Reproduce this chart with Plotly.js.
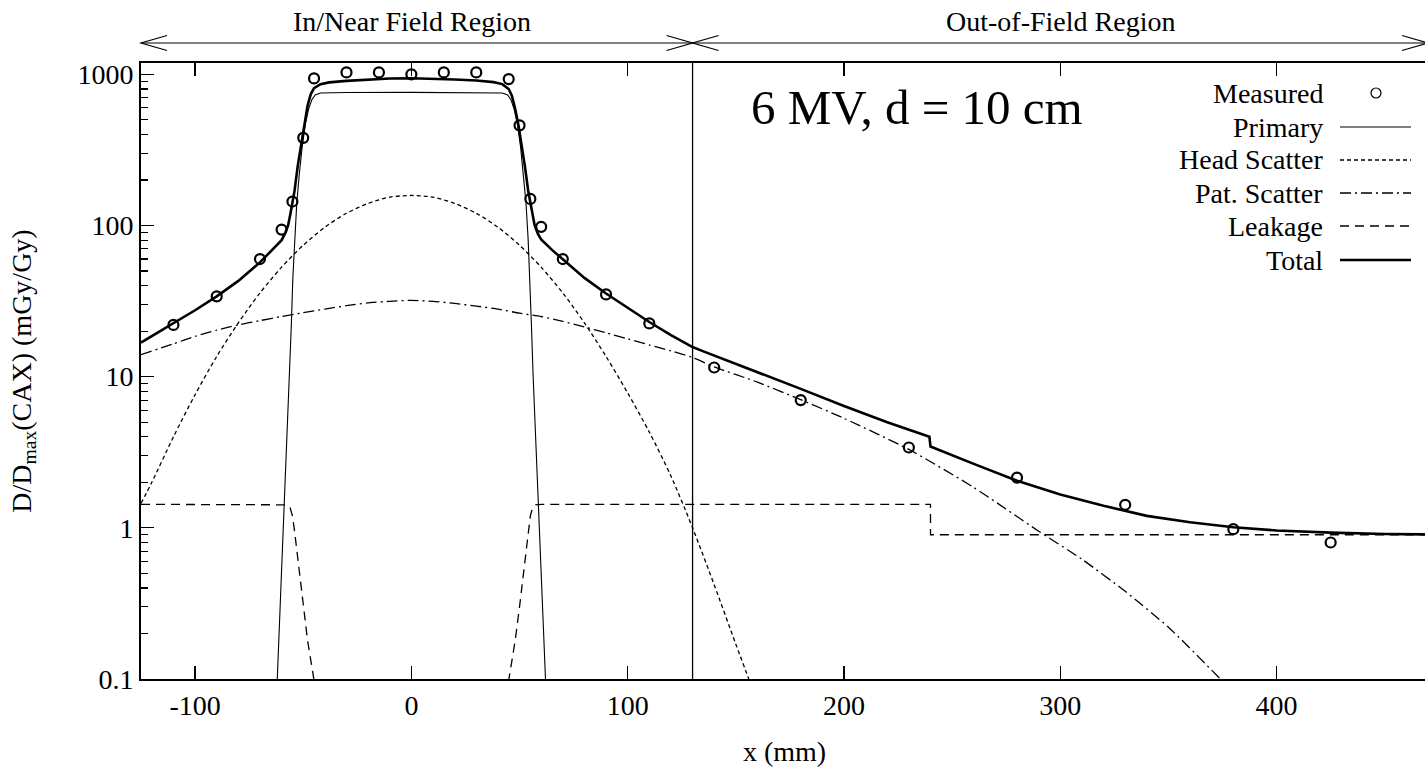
<!DOCTYPE html>
<html><head><meta charset="utf-8">
<script src="https://cdn.plot.ly/plotly-3.0.1.min.js"></script>
<style>html,body{margin:0;padding:0;overflow:hidden;background:#fff}</style>
</head><body><div id="chart" style="width:1428px;height:772px"></div>
<script>
// ---- data ----
const measX = [-110,-90,-70,-60,-55,-50,-45,-30,-15,0,15,30,45,50,55,60,70,90,110,140,180,230,280,330,380,425];
const measY = [22,34,60,94,144,380,940,1030,1030,1000,1030,1030,930,460,150,98,60,35,22.5,11.5,7.0,3.4,2.15,1.42,0.98,0.8];

const primX = [-62,-61,-60,-59,-58,-57,-56.3,-55.5,-54.8,-54,-53,-51.8,-50.5,-49,-47.5,-46,-44.5,-42,-30,0,30,42,44.5,46,47.5,49,50.5,51.8,53,54,54.8,55.5,56.3,57,58,59,60,61,62];
const primY = [0.1,0.22,0.5,1.1,2.5,5.7,10,22,45,80,140,220,330,470,590,680,730,752,758,760,758,752,730,680,590,470,330,220,140,80,45,22,10,5.7,2.5,1.1,0.5,0.22,0.1];

const headX = [-125,-120,-110,-100,-90,-80,-70,-60,-50,-40,-30,-20,-10,0,10,20,30,40,50,60,70,80,90,100,110,120,130,140,150,156];
const headY = [1.45,2.0,4.0,7.6,13.6,22.7,35.8,53,74,97.5,120.5,140,154,158,154,140,120.5,97.5,74,53,35.8,22.7,13.6,7.8,4.3,2.2,1.0,0.42,0.17,0.1];

const patX = [-125,-110,-100,-90,-80,-70,-60,-50,-40,-30,-20,-10,0,10,20,30,40,50,60,70,80,90,100,110,120,130,140,160,180,200,230,260,290,310,330,350,374];
const patY = [14,16.5,18.5,20.3,22,23.5,25,26.5,28,29.5,30.8,31.5,32,31.5,30.5,29.3,28,26.3,25,23.2,21.3,19.5,17.8,16.2,14.8,13.4,11.6,9.2,7.05,5.3,3.3,1.85,0.95,0.62,0.38,0.22,0.1];

const leakX = [-125,-60,-57.5,-56,-55,-54,-53,-52,-50,-48,-46,-44, 44,46,48,50,52,53,54,55,56,57.5,60,240,240,470];
const leakY = [1.43,1.43,1.42,1.35,1.2,0.95,0.72,0.52,0.3,0.18,0.12,0.08, 0.08,0.12,0.18,0.3,0.52,0.72,0.95,1.2,1.35,1.42,1.43,1.43,0.9,0.9];

const totX = [-125,-110,-100,-90,-80,-70,-65,-60,-58.5,-57,-56,-55,-54,-52.5,-51,-49.5,-48,-46.5,-45,-42,-38,-30,-20,-10,0,10,20,30,38,42,45,46.5,48,49.5,51,52.5,54,55,56,57,58.5,60,65,70,80,90,100,110,120,125,130,135,140,150,160,180,200,220,239.5,240,260,280,300,320,340,360,380,400,425,450,470];
const totY = [16.8,22.5,27.5,34,43,57,67,80,88,100,118,145,170,250,340,470,620,740,810,860,885,905,925,938,942,938,925,910,888,862,800,720,590,460,340,245,170,140,115,100,88,81,69,60,45,35.5,28.5,23,18.8,17.1,15.7,14.7,13.8,12.2,10.8,8.3,6.4,5.0,4.0,3.45,2.65,2.05,1.66,1.4,1.2,1.09,1.01,0.96,0.93,0.91,0.905];

const legendNames = ['Measured','Primary','Head Scatter','Pat. Scatter','Leakage','Total'];
const regionLabels = ['In/Near Field Region','Out-of-Field Region'];
const regionBounds = [-125, 130, 470];
const xTickVals = [-100,0,100,200,300,400];
const xTickText = ['-100','0','100','200','300','400'];
const yTickVals = [0.1,1,10,100,1000];
const yTickText = ['0.1','1','10','100','1000'];
const annoText = '6 MV, d = 10 cm';

// ---- styles ----
const FONT = 'Liberation Serif';
const xr = [-125, 470];
const dashes = {
  primary: 'solid',
  head: '4px,3px',
  pat: '11px,4px,2px,4px',
  leak: '9px,6px'
};

const traces = [
  {x: primX, y: primY, mode:'lines', line:{color:'#000', width:1.1, dash:dashes.primary}, name:legendNames[1]},
  {x: headX, y: headY, mode:'lines', line:{color:'#000', width:1.3, dash:dashes.head, shape:'spline', smoothing:0.8}, name:legendNames[2]},
  {x: patX, y: patY, mode:'lines', line:{color:'#000', width:1.3, dash:dashes.pat, shape:'spline', smoothing:0.6}, name:legendNames[3]},
  {x: leakX, y: leakY, mode:'lines', line:{color:'#000', width:1.3, dash:dashes.leak}, name:legendNames[4]},
  {x: totX, y: totY, mode:'lines', line:{color:'#000', width:2.6}, name:legendNames[5]},
  {x: measX, y: measY, mode:'markers', marker:{symbol:'circle-open', size:10, color:'#000', line:{width:2.2, color:'#000'}}, name:legendNames[0]}
];

function px(v){ return (v - xr[0])/(xr[1]-xr[0]); }
const arrowY = 1.0325, wingX = 26/1287, wingY = 7.5/616;

const shapes = [];
shapes.push({type:'line', xref:'x', yref:'paper', x0:regionBounds[1], x1:regionBounds[1], y0:0, y1:1, line:{color:'#000', width:1.3}});
shapes.push({type:'line', xref:'paper', yref:'paper', x0:px(regionBounds[0]), x1:px(regionBounds[2]), y0:arrowY, y1:arrowY, line:{color:'#000', width:1.2}});
function chevron(xp, dir){
  const xb = xp - dir*wingX;
  return {type:'path', xref:'paper', yref:'paper',
    path:`M ${xb} ${arrowY+wingY} L ${xp} ${arrowY} L ${xb} ${arrowY-wingY}`,
    line:{color:'#000', width:1.2}};
}
shapes.push(chevron(px(regionBounds[0]), -1));
shapes.push(chevron(px(regionBounds[1]), 1));
shapes.push(chevron(px(regionBounds[1]), -1));
shapes.push(chevron(px(regionBounds[2]), 1));

const legTextX = (1325-141)/1287, legS0 = (1340-141)/1287, legS1 = (1411-141)/1287;
const legY = [93,127,160,193,226,260].map(p => (679-p)/616);
const annotations = [];
legendNames.forEach((n,i)=>{
  annotations.push({xref:'paper', yref:'paper', x:legTextX, y:legY[i], text:n, showarrow:false,
    xanchor:'right', yanchor:'middle', font:{family:FONT, size:28, color:'#000'}});
});
const legStyles = [null, {w:1.1,d:dashes.primary},{w:1.3,d:dashes.head},{w:1.3,d:dashes.pat},{w:1.3,d:dashes.leak},{w:2.6,d:'solid'}];
for (let i=1;i<6;i++){
  shapes.push({type:'line', xref:'paper', yref:'paper', x0:legS0, x1:legS1, y0:legY[i], y1:legY[i], line:{color:'#000', width:legStyles[i].w, dash:legStyles[i].d}});
}
const cx = (1376-141)/1287, rx = 5/1287, ry = 5/616;
shapes.push({type:'circle', xref:'paper', yref:'paper', x0:cx-rx, x1:cx+rx, y0:legY[0]-ry, y1:legY[0]+ry, line:{color:'#000', width:1.2}});

annotations.push({xref:'x', yref:'paper', x:(regionBounds[0]+regionBounds[1])/2 - 2, y:1.0666, text:regionLabels[0], showarrow:false, xanchor:'center', yanchor:'middle', font:{family:FONT, size:28, color:'#000'}});
annotations.push({xref:'x', yref:'paper', x:(regionBounds[1]+regionBounds[2])/2, y:1.0666, text:regionLabels[1], showarrow:false, xanchor:'center', yanchor:'middle', font:{family:FONT, size:28, color:'#000'}});
annotations.push({xref:'paper', yref:'paper', x:(917-141)/1287, y:(679-108)/616, text:annoText, showarrow:false, xanchor:'center', yanchor:'middle', font:{family:FONT, size:49, color:'#000'}});

const layout = {
  width:1428, height:772,
  margin:{l:141, r:0, t:63, b:93},
  paper_bgcolor:'#fff', plot_bgcolor:'#fff',
  showlegend:false,
  font:{family:FONT, size:28, color:'#000'},
  xaxis:{
    range:xr, tickmode:'array', tickvals:xTickVals, ticktext:xTickText,
    ticks:'inside', ticklen:13, tickwidth:1.3, tickcolor:'#000',
    showline:true, linewidth:2, linecolor:'#000', mirror:'ticks',
    showgrid:false, zeroline:false,
    tickfont:{family:FONT, size:28, color:'#000'},
    title:{text:'x (mm)', font:{family:FONT, size:28, color:'#000'}, standoff:22}
  },
  yaxis:{
    type:'log', range:[-1, 3.075],
    tickmode:'array', tickvals:yTickVals, ticktext:yTickText,
    ticks:'inside', ticklen:13, tickwidth:1.3, tickcolor:'#000',
    minor:{ticks:'inside', ticklen:7, tickwidth:1.1, tickcolor:'#000', dtick:'D1', showgrid:false},
    showline:true, linewidth:2, linecolor:'#000', mirror:false,
    showgrid:false, zeroline:false,
    tickfont:{family:FONT, size:28, color:'#000'},
    title:{text:'D/D<sub>max</sub>(CAX) (mGy/Gy)', font:{family:FONT, size:28, color:'#000'}, standoff:38}
  },
  shapes:shapes,
  annotations:annotations
};

Plotly.newPlot('chart', traces, layout, {displayModeBar:false, staticPlot:true});
</script></body></html>
